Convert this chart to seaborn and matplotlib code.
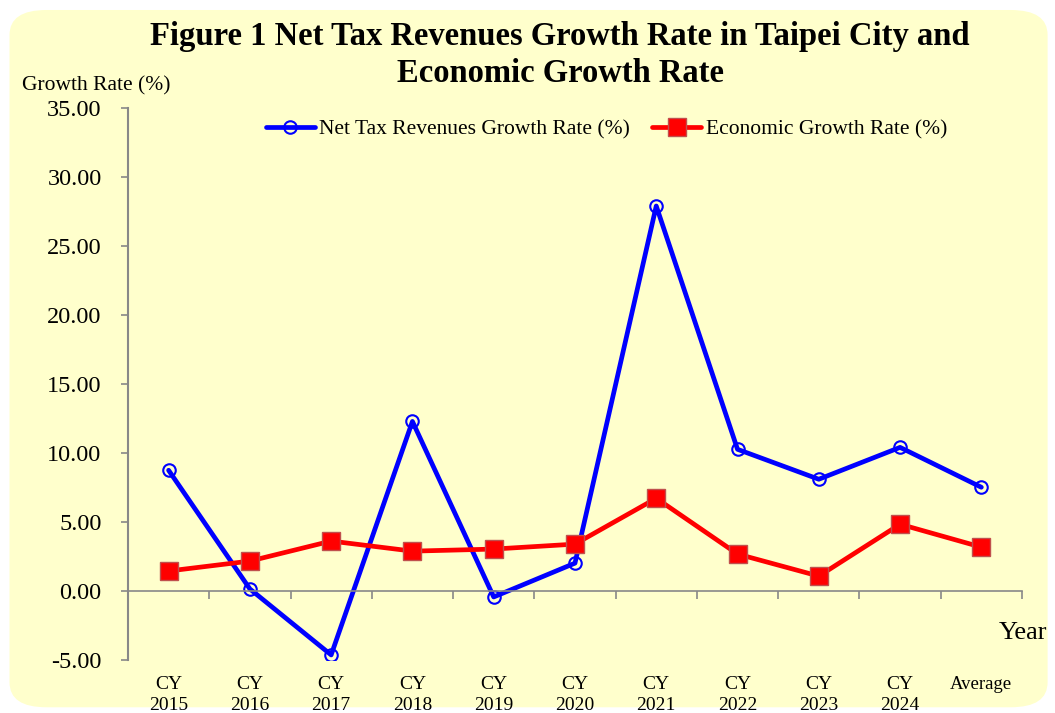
import numpy as np
import pandas as pd
import seaborn as sns
import matplotlib.pyplot as plt
from matplotlib.patches import FancyBboxPatch
from matplotlib.ticker import FormatStrFormatter

# chart data
years = ['CY\n2015', 'CY\n2016', 'CY\n2017', 'CY\n2018', 'CY\n2019', 'CY\n2020',
         'CY\n2021', 'CY\n2022', 'CY\n2023', 'CY\n2024', 'Average']
net_tax = [8.75, 0.15, -4.63, 12.29, -0.43, 2.02, 27.90, 10.27, 8.10, 10.41, 7.52]
econ = [1.45, 2.17, 3.62, 2.89, 3.04, 3.40, 6.72, 2.68, 1.08, 4.84, 3.18]

df = pd.DataFrame({'pos': np.arange(len(years)), 'tax': net_tax, 'econ': econ})

sns.set_style('white')
plt.rcParams['font.family'] = ['Liberation Serif', 'DejaVu Serif']
plt.rcParams['axes.unicode_minus'] = False
plt.rcParams['text.color'] = 'black'
plt.rcParams['xtick.color'] = 'black'
plt.rcParams['ytick.color'] = 'black'

bg = '#FFFFCC'
fig = plt.figure(figsize=(10.55, 7.13), dpi=100, facecolor='white')
# rounded yellow panel behind everything
fig.patches.append(FancyBboxPatch((0.009, 0.008), 0.984, 0.978,
                                  boxstyle='round,pad=0,rounding_size=0.035',
                                  transform=fig.transFigure, facecolor=bg,
                                  edgecolor='none', zorder=-10))

ax = fig.add_axes([0.1213, 0.0743, 0.8474, 0.7742])
ax.set_facecolor(bg)

sns.lineplot(data=df, x='pos', y='tax', ax=ax, sort=False, color='#0000FF',
             linewidth=3.4, marker='o', markersize=9, markerfacecolor='none',
             markeredgecolor='#0000FF', markeredgewidth=1.5,
             label='Net Tax Revenues Growth Rate (%)')
sns.lineplot(data=df, x='pos', y='econ', ax=ax, sort=False, color='#FF0000',
             linewidth=3.4, marker='s', markersize=13, markerfacecolor='#FF0000',
             markeredgecolor='#C0504D', markeredgewidth=1.0,
             label='Economic Growth Rate (%)')

ax.set_xlim(-0.5, len(years) - 0.5)
ax.set_ylim(-5, 35)
ax.set_yticks(np.arange(-5, 36, 5))
ax.yaxis.set_major_formatter(FormatStrFormatter('%.2f'))
ax.tick_params(axis='y', labelsize=17.5, length=5, width=1.2, color='#888888',
               labelcolor='black', direction='out', left=True, pad=14)

# x axis line at zero, labels kept at the bottom
ax.spines['bottom'].set_position(('data', 0))
ax.spines['bottom'].set_color('#888888')
ax.spines['bottom'].set_linewidth(1.2)
ax.spines['left'].set_color('#888888')
ax.spines['left'].set_linewidth(1.5)
ax.spines['top'].set_visible(False)
ax.spines['right'].set_visible(False)
ax.set_xticks(np.arange(len(years)))
ax.set_xticklabels(years, fontsize=14, linespacing=1.3)
ax.set_xticks(np.arange(len(years)) + 0.5, minor=True)
ax.tick_params(axis='x', which='major', length=0, pad=61, labelcolor='black')
ax.tick_params(axis='x', which='minor', length=6, width=1.2, color='#888888',
               direction='out', bottom=True)
for lab in ax.get_xticklabels():
    if lab.get_text() == 'Average':
        lab.set_fontsize(13.5)

ax.set_xlabel('')
ax.set_ylabel('')
fig.text(0.021, 0.880, 'Growth Rate (%)', fontsize=15.5, ha='left', va='center')
fig.text(0.993, 0.112, 'Year', fontsize=19, ha='right', va='center')

fig.text(0.531, 0.923, 'Figure 1 Net Tax Revenues Growth Rate in Taipei City and\nEconomic Growth Rate',
         fontsize=23.5, fontweight='bold', ha='center', va='center', linespacing=1.22)

ax.legend(loc='upper center', bbox_to_anchor=(0.535, 1.015), ncol=2, frameon=False,
          fontsize=15.5, handlelength=2.3, handletextpad=0.2, columnspacing=1.0)

fig.savefig('out.png', dpi=100, facecolor='white')
